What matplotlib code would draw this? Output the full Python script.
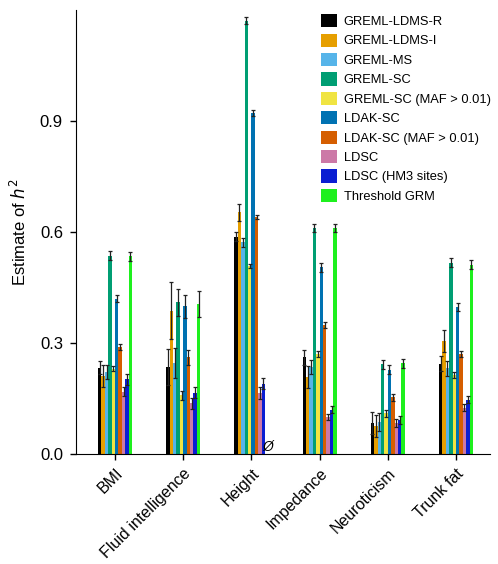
import numpy as np
import matplotlib
matplotlib.use("Agg")
import matplotlib.pyplot as plt

plt.rcParams['font.family'] = ['Liberation Sans', 'DejaVu Sans']

traits = ["BMI", "Fluid intelligence", "Height", "Impedance", "Neuroticism", "Trunk fat"]
methods = ["GREML-LDMS-R", "GREML-LDMS-I", "GREML-MS", "GREML-SC", "GREML-SC (MAF > 0.01)",
           "LDAK-SC", "LDAK-SC (MAF > 0.01)", "LDSC", "LDSC (HM3 sites)", "Threshold GRM"]
colors = ["#000000", "#E69F00", "#56B4E9", "#009E73", "#F0E442",
          "#0072B2", "#D55E00", "#CC79A7", "#0A1ED2", "#1EF01E"]

# estimates per method, one value per trait (nan = not estimated)
est = {
    "GREML-LDMS-R":          [0.233, 0.235, 0.588, 0.261, 0.084, 0.244],
    "GREML-LDMS-I":          [0.211, 0.388, 0.653, 0.208, 0.076, 0.305],
    "GREML-MS":              [0.222, 0.246, 0.572, 0.235, 0.087, 0.232],
    "GREML-SC":              [0.536, 0.410, 1.172, 0.611, 0.243, 0.517],
    "GREML-SC (MAF > 0.01)": [0.231, 0.159, 0.509, 0.270, 0.110, 0.213],
    "LDAK-SC":               [0.420, 0.399, 0.923, 0.505, 0.228, 0.397],
    "LDAK-SC (MAF > 0.01)":  [0.289, 0.262, 0.641, 0.348, 0.153, 0.271],
    "LDSC":                  [0.168, 0.137, 0.165, 0.100, 0.084, 0.125],
    "LDSC (HM3 sites)":      [0.202, 0.166, 0.190, 0.120, 0.092, 0.147],
    "Threshold GRM":         [0.535, 0.406, np.nan, 0.611, 0.245, 0.512],
}
err = {
    "GREML-LDMS-R":          [0.018, 0.048, 0.012, 0.020, 0.030, 0.020],
    "GREML-LDMS-I":          [0.030, 0.078, 0.024, 0.030, 0.030, 0.030],
    "GREML-MS":              [0.020, 0.040, 0.012, 0.020, 0.025, 0.020],
    "GREML-SC":              [0.012, 0.037, 0.010, 0.012, 0.012, 0.012],
    "GREML-SC (MAF > 0.01)": [0.006, 0.012, 0.005, 0.008, 0.010, 0.008],
    "LDAK-SC":               [0.010, 0.030, 0.008, 0.012, 0.012, 0.010],
    "LDAK-SC (MAF > 0.01)":  [0.008, 0.020, 0.006, 0.008, 0.010, 0.008],
    "LDSC":                  [0.012, 0.015, 0.015, 0.008, 0.010, 0.010],
    "LDSC (HM3 sites)":      [0.015, 0.015, 0.015, 0.010, 0.010, 0.010],
    "Threshold GRM":         [0.012, 0.036, np.nan, 0.012, 0.012, 0.012],
}

fig = plt.figure(figsize=(4.98, 5.64), dpi=100)
ax = fig.add_axes([0.153, 0.195, 0.831, 0.787])

x = np.arange(len(traits))
w = 0.05
for i, m in enumerate(methods):
    pos = x + (i - 4.5) * w
    ax.bar(pos, est[m], width=w, color=colors[i], label=m, linewidth=0)
    ax.errorbar(pos, est[m], yerr=err[m], fmt='none', ecolor='#222222',
                elinewidth=0.9, capsize=1.2, capthick=0.9)

# missing threshold GRM estimate for height
ax.text(x[2] + 4.5 * w + 0.02, 0.0, "Ø", fontsize=10, ha='center', va='bottom', style='italic')

ax.set_xlim(-0.57, 5.5)
ax.set_ylim(0, 1.2)
ax.set_yticks([0.0, 0.3, 0.6, 0.9])
ax.set_yticklabels(["0.0", "0.3", "0.6", "0.9"], fontsize=12)
ax.set_xticks(x)
ax.set_xticklabels(traits, rotation=45, ha='right', rotation_mode='anchor', fontsize=11.5)
ax.tick_params(axis='y', length=4.5, width=1, pad=5)
ax.tick_params(axis='x', length=4.5, width=1, pad=4)
ax.set_ylabel("Estimate of $h^2$", fontsize=12, labelpad=8)
ax.spines['top'].set_visible(False)
ax.spines['right'].set_visible(False)

fig.legend(loc='upper left', bbox_to_anchor=(0.645, 0.975), frameon=False, fontsize=9.3,
           handlelength=1.2, handleheight=1.2, handletextpad=0.55, labelspacing=0.42,
           borderpad=0, borderaxespad=0)

fig.savefig("out.png", dpi=100)
